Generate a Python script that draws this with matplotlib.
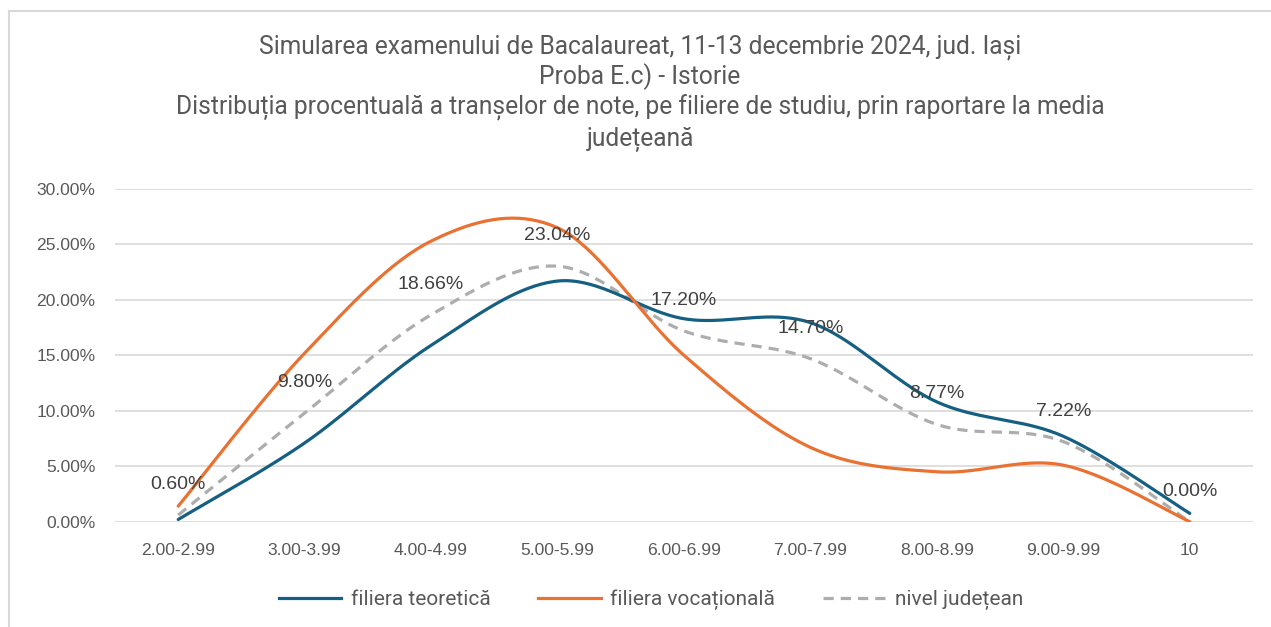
import numpy as np
import matplotlib
matplotlib.use("Agg")
import matplotlib.pyplot as plt
from matplotlib.lines import Line2D

categories = ["2.00-2.99", "3.00-3.99", "4.00-4.99", "5.00-5.99", "6.00-6.99",
              "7.00-7.99", "8.00-8.99", "9.00-9.99", "10"]
teoretica = [0.20, 7.10, 15.90, 21.70, 18.30, 17.95, 10.80, 7.70, 0.75]
vocationala = [1.40, 15.20, 25.30, 26.50, 15.00, 6.70, 4.50, 5.10, 0.00]
judetean = [0.60, 9.80, 18.66, 23.04, 17.20, 14.70, 8.77, 7.22, 0.00]
judetean_labels = ["0.60%", "9.80%", "18.66%", "23.04%", "17.20%", "14.70%", "8.77%", "7.22%", "0.00%"]
title_lines = ["Simularea examenului de Bacalaureat, 11-13 decembrie 2024, jud. Iași",
               "Proba E.c) - Istorie",
               "Distribuția procentuală a tranșelor de note, pe filiere de studiu, prin raportare la media",
               "județeană"]
series_names = ["filiera teoretică", "filiera vocațională", "nivel județean"]

BLUE = "#156082"
ORANGE = "#E97132"
GRAY = "#ADADAD"
TXT = "#595959"
LBL = "#404040"


def smooth(xs, ys, n=40):
    xs = np.asarray(xs, float)
    ys = np.asarray(ys, float)
    P = np.column_stack([xs, ys])
    m = len(P)
    out = []
    for i in range(m - 1):
        p0 = P[i - 1] if i > 0 else P[i]
        p1 = P[i]
        p2 = P[i + 1]
        p3 = P[i + 2] if i + 2 < m else P[i + 1]
        c1 = p1 + (p2 - p0) / 6.0
        c2 = p2 - (p3 - p1) / 6.0
        t = np.linspace(0, 1, n)[:, None]
        seg = ((1 - t) ** 3) * p1 + 3 * ((1 - t) ** 2) * t * c1 + 3 * (1 - t) * t ** 2 * c2 + t ** 3 * p2
        if i > 0:
            seg = seg[1:]
        out.append(seg)
    out = np.vstack(out)
    return out[:, 0], out[:, 1]


plt.rcParams['font.family'] = ['Liberation Sans', 'DejaVu Sans']

fig = plt.figure(figsize=(12.71, 6.27), dpi=100)
ax = fig.add_axes([115 / 1271, 1 - 521.7 / 627, (1253 - 115) / 1271, (521.7 - 189) / 627])

x = np.arange(len(categories))
for vals, col, ls in [(teoretica, BLUE, '-'), (vocationala, ORANGE, '-'), (judetean, GRAY, '--')]:
    sx, sy = smooth(x, vals)
    if ls == '--':
        ax.plot(sx, sy, color=col, lw=2.3, dashes=(3.2, 2.2), zorder=3)
    else:
        ax.plot(sx, sy, color=col, lw=2.3, solid_capstyle='round', zorder=4)

for xi, v, lab in zip(x, judetean, judetean_labels):
    ax.annotate(lab, (xi, v), xytext=(0, 22), textcoords='offset points',
                ha='center', va='center', fontsize=14, color=LBL, zorder=6)

ax.set_xlim(-0.5, len(categories) - 0.5)
ax.set_ylim(0, 30)
ax.set_yticks(np.arange(0, 31, 5))
ax.set_yticklabels([f"{v:.2f}%" for v in np.arange(0, 31, 5)])
ax.set_xticks(x)
ax.set_xticklabels(categories)
ax.tick_params(axis='both', length=0, labelsize=12.6, labelcolor=TXT)
ax.tick_params(axis='y', pad=14)
ax.tick_params(axis='x', pad=15)
ax.grid(axis='y', color='#D9D9D9', lw=1.2)
ax.set_axisbelow(True)
for s in ax.spines.values():
    s.set_visible(False)

title_y = [47, 77, 108, 139]
for t, yy in zip(title_lines, title_y):
    fig.text(640 / 1271, 1 - yy / 627, t, ha='center', va='center',
             fontsize=17.7, color=TXT, family=['Roboto', 'DejaVu Sans'])

handles = [Line2D([], [], color=BLUE, lw=2.3),
           Line2D([], [], color=ORANGE, lw=2.3),
           Line2D([], [], color=GRAY, lw=2.3, dashes=(3.2, 2.2))]
leg = fig.legend(handles, series_names, loc='center', bbox_to_anchor=(651 / 1271, 1 - 600 / 627),
                 ncol=3, frameon=False, handlelength=3.0, columnspacing=2.3, handletextpad=0.45,
                 prop={'family': ['Roboto', 'DejaVu Sans'], 'size': 15})
for t in leg.get_texts():
    t.set_color(TXT)

# chart area border (left and top visible)
fig.add_artist(Line2D([9 / 1271, 9 / 1271], [0, 1 - 11 / 627], transform=fig.transFigure, color='#D9D9D9', lw=1.5))
fig.add_artist(Line2D([9 / 1271, 1], [1 - 11 / 627, 1 - 11 / 627], transform=fig.transFigure, color='#D9D9D9', lw=1.5))

fig.savefig("out.png", dpi=100)
